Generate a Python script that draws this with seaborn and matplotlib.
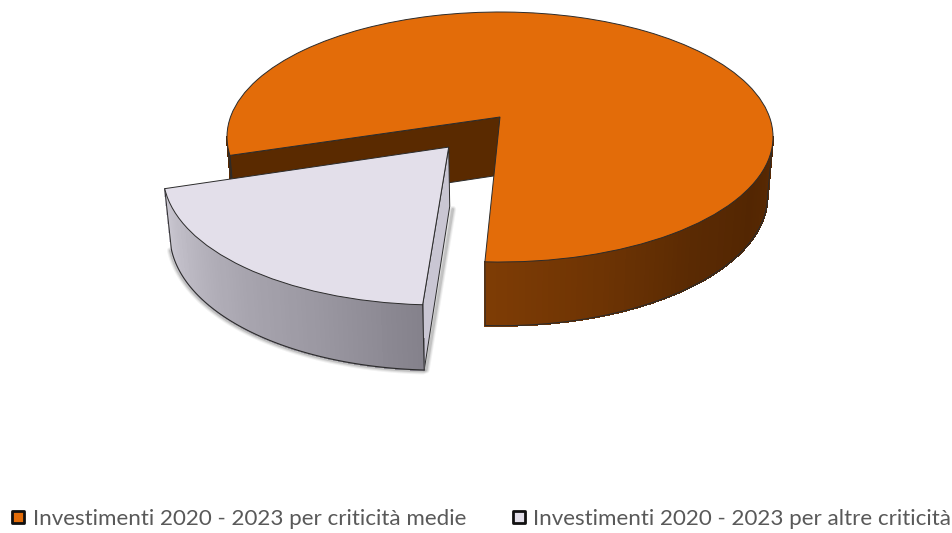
import numpy as np
import matplotlib
matplotlib.use("Agg")
import matplotlib.pyplot as plt
import seaborn as sns
from matplotlib.collections import PolyCollection
from matplotlib.lines import Line2D
from matplotlib.markers import MarkerStyle
from matplotlib.transforms import Transform

# values (share of the pie, %)
labels = ["Investimenti 2020 - 2023 per criticità medie",
          "Investimenti 2020 - 2023 per altre criticità"]
values = [80.6, 19.4]
explode = [0, 0.3]
colors = ["#E36C09", "#E3DFEA"]
inner_colors = ["#5A2A00", "#C9C6D3"]
side_colors = [["#7E3C05", "#6E3404", "#5A2A03", "#532602", "#5A2A03"],
               ["#CDCAD4", "#BAB7C1", "#A8A5AF", "#9A97A1", "#85828C"]]

# camera used for the fake 3D look
CX, CY = 500, 117
SX, SY = 269.5, 121.8
PERSP = 0.16
DEPTH = 58


def project(x, y, z=0.0):
    den = 1 + PERSP * y
    px = SX * x / den * (1 - 0.02 * z)
    py = SY * y / den
    return CX + px, CY - py + z * DEPTH / (1 + 0.09 * y)


class Perspective(Transform):
    input_dims = 2
    output_dims = 2

    def transform_non_affine(self, values):
        px, py = project(values[:, 0], values[:, 1])
        return np.column_stack([px, py])


def rim(center, a, b, n=80):
    t = np.radians(np.linspace(a, b, n))
    return center[0] + np.cos(t), center[1] + np.sin(t)


def draw_outer_wall(ax, center, a, b, palette, zorder):
    x, y = rim(center, a, b)
    tx, ty = project(x, y, 0)
    bx, by = project(x, y, 1)
    cols = sns.blend_palette(palette, len(x) - 1)
    quads = [[(tx[i], ty[i]), (tx[i + 1], ty[i + 1]), (bx[i + 1], by[i + 1]), (bx[i], by[i])]
             for i in range(len(x) - 1)]
    # no antialiasing here, otherwise the joins between the quads show as stripes
    ax.add_collection(PolyCollection(quads, facecolors=cols, edgecolors=cols, linewidths=0.8,
                                     antialiaseds=False, zorder=zorder))
    ax.plot(bx, by, color="#2B2B2B", lw=0.8, zorder=zorder + 0.1)
    for xx, yy, xb, yb in [(tx[0], ty[0], bx[0], by[0]), (tx[-1], ty[-1], bx[-1], by[-1])]:
        ax.plot([xx, xb], [yy, yb], color="#2B2B2B", lw=0.7, zorder=zorder + 0.1)


def draw_cut_wall(ax, center, angle, color, zorder):
    t = np.radians(angle)
    xs = np.array([center[0], center[0] + np.cos(t)])
    ys = np.array([center[1], center[1] + np.sin(t)])
    tx, ty = project(xs, ys, 0)
    bx, by = project(xs, ys, 1)
    ax.fill([tx[0], tx[1], bx[1], bx[0]], [ty[0], ty[1], by[1], by[0]],
            facecolor=color, edgecolor="#2B2B2B", lw=0.7, zorder=zorder)


def main():
    sns.set_theme(style="white")
    plt.rcParams["font.family"] = ["Lato", "DejaVu Sans"]

    fig = plt.figure(figsize=(9.52, 5.33), dpi=100)
    ax = fig.add_axes([0, 0, 1, 1])

    # startangle puts the cut of the big slice where it is in the picture
    wedges, _ = ax.pie(values, explode=explode, colors=colors, startangle=267.3,
                       wedgeprops={"edgecolor": "#2B2B2B", "linewidth": 0.7})
    ax.set_aspect("auto")
    ax.set_xlim(0, 952)
    ax.set_ylim(533, 0)
    ax.set_axis_off()

    persp = Perspective() + ax.transData
    for w in wedges:
        w.set_transform(persp)

    big, small = wedges
    big.set_zorder(3)
    small.set_zorder(7)

    # big slice: front wall from the cut to the right silhouette, then the left bit
    start, end = big.theta1 % 360, big.theta2 % 360
    draw_outer_wall(ax, big.center, start, 350.8, side_colors[0], 2)
    draw_outer_wall(ax, big.center, 189.2, end, [inner_colors[0]] * 2, 2)
    draw_cut_wall(ax, big.center, end, inner_colors[0], 2.5)

    # small slice: soft shadow, outer wall and the cut wall facing right
    a, b = small.theta1 % 360, small.theta2 % 360
    sx, sy = rim(small.center, a, b)
    bx, by = project(sx, sy, 1)
    tip = project(np.array([small.center[0]]), np.array([small.center[1]]), 1)
    for lw, alpha in [(5, 0.08), (3.5, 0.12), (2, 0.2)]:
        ax.plot(bx - 1, by + 1, color="#555555", lw=lw, alpha=alpha, zorder=4, solid_capstyle="round")
        ax.plot([bx[-1] + 2, tip[0][0] + 3], [by[-1], tip[1][0] + 3], color="#555555",
                lw=lw, alpha=alpha, zorder=4)
    draw_cut_wall(ax, small.center, b, inner_colors[1], 5)
    draw_outer_wall(ax, small.center, a, b, side_colors[1], 6)

    handles = [Line2D([], [], linestyle="none", marker=MarkerStyle("s", joinstyle="round"),
                      markersize=9, markerfacecolor=c, markeredgecolor="#111111", markeredgewidth=2)
               for c in colors]
    ax.legend(handles, labels, ncol=2, loc="center left", bbox_to_anchor=(0.0112, 0.026),
              frameon=False, fontsize=16.1, labelcolor="#595959", handlelength=0.7,
              handletextpad=0.3, columnspacing=2.0, borderaxespad=0, borderpad=0)

    fig.savefig("out.png", dpi=100)


if __name__ == '__main__':
    main()
